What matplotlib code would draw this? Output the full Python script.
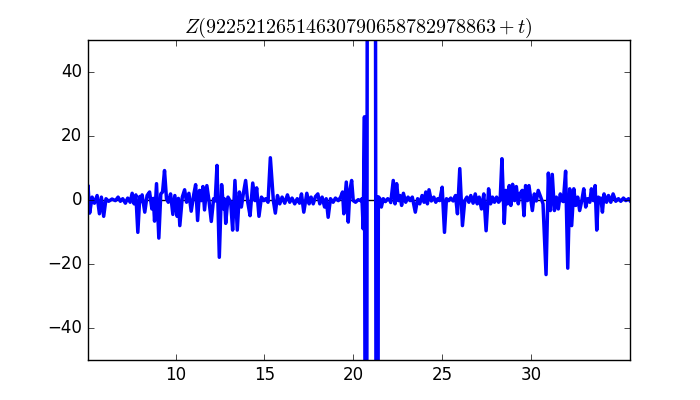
import numpy as np
import matplotlib
matplotlib.use("Agg")
import matplotlib.pyplot as plt

plt.style.use("classic")

# ---- values (t, Z) ----
t_vals = [
    5.05, 5.08, 5.17, 5.31, 5.44, 5.59, 5.72, 5.83, 5.96, 6.09, 6.24, 6.43, 6.62, 6.77, 6.90,
    7.03, 7.18, 7.31, 7.45, 7.56, 7.67, 7.77, 7.88, 7.99, 8.05, 8.12, 8.27, 8.40, 8.54, 8.67,
    8.75, 8.82, 8.93, 9.06, 9.17, 9.27, 9.38, 9.49, 9.59, 9.72, 9.85, 9.96, 10.09, 10.16, 10.24,
    10.38, 10.51, 10.62, 10.75, 10.88, 11.03, 11.13, 11.24, 11.35, 11.45, 11.54, 11.63, 11.76,
    11.88, 12.01, 12.14, 12.23, 12.33, 12.46, 12.59, 12.70, 12.76, 12.82, 12.95, 13.10, 13.21,
    13.34, 13.47, 13.59, 13.70, 13.81, 13.94, 14.06, 14.19, 14.34, 14.47, 14.56, 14.69, 14.83,
    14.96, 15.07, 15.20, 15.33, 15.50, 15.61, 15.73, 15.86, 15.99, 16.14, 16.29, 16.42, 16.55,
    16.70, 16.84, 16.97, 17.08, 17.21, 17.38, 17.51, 17.62, 17.74, 17.87, 18.00, 18.11, 18.24,
    18.38, 18.47, 18.58, 18.71, 18.86, 18.99, 19.15, 19.28, 19.39, 19.46, 19.60, 19.71, 19.80,
    19.90, 19.99, 20.12, 20.27, 20.40, 20.48, 20.55, 20.62, 20.72, 20.82, 21.18, 21.33, 21.40,
    21.48, 21.57, 21.68, 21.80, 21.93, 22.06, 22.10, 22.24, 22.34, 22.43, 22.53, 22.62, 22.71,
    22.81, 22.94, 23.07, 23.19, 23.31, 23.48, 23.61, 23.73, 23.86, 23.97, 24.07, 24.16, 24.25,
    24.38, 24.52, 24.63, 24.74, 24.85, 24.99, 25.12, 25.23, 25.36, 25.47, 25.61, 25.74, 25.85,
    25.98, 26.13, 26.26, 26.38, 26.49, 26.60, 26.73, 26.85, 26.96, 27.07, 27.20, 27.33, 27.46,
    27.60, 27.71, 27.82, 27.93, 28.05, 28.16, 28.25, 28.35, 28.48, 28.57, 28.67, 28.76, 28.85,
    28.95, 29.06, 29.16, 29.27, 29.36, 29.49, 29.59, 29.68, 29.78, 29.87, 29.96, 30.06, 30.17,
    30.28, 30.39, 30.53, 30.66, 30.83, 30.96, 31.07, 31.18, 31.30, 31.41, 31.52, 31.63, 31.75,
    31.80, 31.93, 32.05, 32.16, 32.27, 32.39, 32.50, 32.61, 32.72, 32.84, 32.95, 33.06, 33.17,
    33.29, 33.38, 33.49, 33.59, 33.68, 33.77, 33.84, 33.91, 34.00, 34.09, 34.23, 34.34, 34.47,
    34.60, 34.75, 34.90, 35.03, 35.18, 35.32, 35.47, 35.55,
]
z_vals = [
    2.0, 4.5, -4.1, 0.9, -1.0, 1.4, -4.3, 0.9, -5.1, 0.4, -0.4, 0.3, -0.2, 0.9, -0.4,
    0.4, -1.0, 0.6, -0.7, 2.1, -1.2, 1.6, -10.1, 1.1, -0.5, 1.6, -3.8, 1.4, 2.5, -2.8,
    0.5, -6.6, 5.1, -11.9, 1.9, 2.5, 9.2, 0.4, -0.7, 1.9, -4.5, 1.4, -5.1, 0.5, -8.0,
    0.9, 3.2, -0.7, 2.1, -3.5, 1.9, 4.8, -6.4, 3.0, -0.2, 4.2, -3.1, 4.5,
    -0.2, -6.7, 0.4, -0.3, 10.8, -17.9, 4.8, -2.8, 0.3, -7.3, 0.9, -0.7, -9.4,
    6.1, -9.4, 2.5, -2.2, 1.9, 6.1, -0.7, -4.9, 5.3, -0.2, 3.8, -5.1, 0.9,
    -0.2, 0.4, -0.7, 13.2, -0.2, -4.1, 1.4, -1.2, 0.9, -1.0, 1.6, -0.7, 0.6,
    -1.2, 0.4, -1.0, 1.9, -3.8, 2.1, -1.2, 0.9, -1.2, 1.1, 1.9, -1.2, 0.9,
    -2.2, 0.4, -5.4, 0.4, -0.7, 0.6, -0.2, 0.9, 2.5, -4.3, 5.6, -6.9, 3.0,
    6.1, -0.2, -0.7, 0.1, -0.2, 0.4, -9.0, 26.0, -250.0, 300.0, 350.0, -350.0, 1.0,
    0.5, -2.2, 0.4, -0.5, 0.4, -0.2, -0.8, 6.1, -1.2, 5.1, -0.2, 1.4, -1.7,
    2.1, -0.7, 0.9, -0.2, 0.9, -3.8, 0.4, -1.2, 1.4, -0.7, 2.5, -1.2, 3.2,
    -0.3, 0.9, -0.7, 0.4, -0.2, 4.0, -10.1, 0.4, -0.2, 0.6, -0.3, 1.4, -4.3,
    9.8, -8.0, -0.2, 0.9, -0.7, 1.4, -1.0, 1.9, -1.2, 0.9, -2.8, 1.9, -9.6,
    3.5, -1.2, 0.9, -0.7, 0.9, -0.7, 0.0, 12.9, -7.3, 3.0, -1.2, 4.5, -1.7,
    4.9, -0.2, 4.2, -1.2, 1.9, 3.0, -4.9, 4.5, -0.2, 4.5, 0.9, -3.3, 1.9,
    -0.3, 3.0, 0.9, -1.2, -23.3, 8.4, -3.3, 8.0, -3.3, 0.9, -2.8, 1.9, -0.3,
    -0.5, 9.0, -21.3, 3.5, -8.0, 3.5, -1.7, 0.9, -3.3, -0.2, 3.5, -2.2, 0.4,
    -0.7, 3.5, -0.2, 4.5, -9.4, 0.9, -0.3, 0.6, -3.8, 1.9, -0.7, 1.4, -0.7,
    1.9, -0.4, 0.4, -0.4, 0.6, -0.2, 0.4, -0.2,
]
title = r"$Z(92252126514630790658782978863+t)$"

fig = plt.figure(figsize=(7, 4), dpi=100, facecolor="white")
ax = fig.add_subplot(111)
ax.axhline(0, color="k", lw=1, zorder=1)
ax.plot(t_vals, z_vals, color="b", lw=2.5, zorder=2)
ax.set_xlim(5.05, 35.55)
ax.set_ylim(-50, 50)
ax.set_xticks([10, 15, 20, 25, 30])
ax.set_yticks([-40, -20, 0, 20, 40])
ax.set_title(title)

fig.savefig("out.png", dpi=100, facecolor="white")
